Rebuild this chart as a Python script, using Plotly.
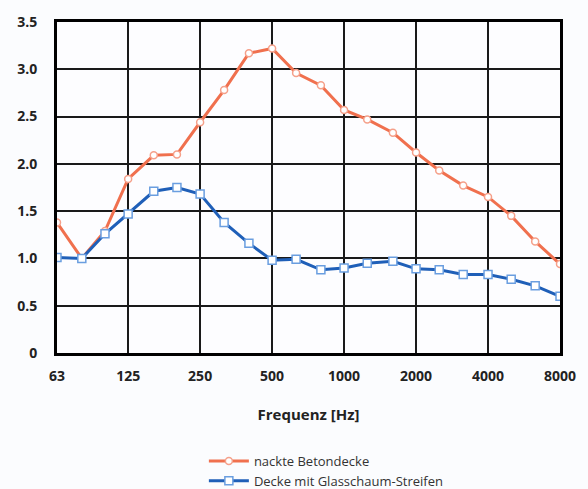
import plotly.graph_objects as go

freqs = [63, 80, 100, 125, 160, 200, 250, 315, 400, 500, 630, 800, 1000,
         1250, 1600, 2000, 2500, 3150, 4000, 5000, 6300, 8000]
beton = [1.38, 1.00, 1.29, 1.84, 2.09, 2.10, 2.44, 2.78, 3.17, 3.22, 2.96, 2.83,
         2.57, 2.47, 2.33, 2.12, 1.93, 1.77, 1.65, 1.45, 1.18, 0.94]
glas = [1.01, 1.00, 1.26, 1.47, 1.71, 1.75, 1.68, 1.38, 1.16, 0.98, 0.99, 0.88,
        0.90, 0.95, 0.97, 0.89, 0.88, 0.83, 0.83, 0.78, 0.71, 0.60]
x_ticks = [63, 125, 250, 500, 1000, 2000, 4000, 8000]
x_ticktext = ["63", "125", "250", "500", "1000", "2000", "4000", "8000"]
y_ticks = [0, 0.5, 1.0, 1.5, 2.0, 2.5, 3.0, 3.5]
y_ticktext = ["0", "0.5", "1.0", "1.5", "2.0", "2.5", "3.0", "3.5"]
names = ["nackte Betondecke", "Decke mit Glasschaum-Streifen"]

fig = go.Figure()
fig.add_trace(go.Scatter(
    x=freqs, y=beton, name=names[0], mode="lines+markers",
    line=dict(color="#f0704e", width=3),
    marker=dict(symbol="circle", size=7, color="white",
                line=dict(color="#f5a08a", width=1.5)),
    cliponaxis=True))
fig.add_trace(go.Scatter(
    x=freqs, y=glas, name=names[1], mode="lines+markers",
    line=dict(color="#1f5fb8", width=3),
    marker=dict(symbol="square", size=8, color="white",
                line=dict(color="#6a9ee0", width=1.5)),
    cliponaxis=True))

fig.update_layout(
    width=588, height=489,
    margin=dict(l=57, r=28, t=20, b=136),
    paper_bgcolor="#fbfcfe", plot_bgcolor="#fdfdff",
    font=dict(family="Open Sans, Noto Sans, sans-serif", color="#222222"),
    showlegend=True,
    legend=dict(x=0.292, y=0.088, xanchor="left", yanchor="top",
                yref="container",
                bgcolor="rgba(0,0,0,0)", itemwidth=40, tracegroupgap=0,
                font=dict(size=13, color="#333333")),
)
fig.update_xaxes(
    type="log", range=[1.79934, 3.90309],
    tickvals=x_ticks, ticktext=x_ticktext,
    tickfont=dict(size=14, family="Open Sans", weight="bold", color="#222222"),
    showgrid=True, gridcolor="#1a1a1a", gridwidth=2,
    showline=True, linecolor="black", linewidth=3, mirror=True,
    ticks="", ticklabelstandoff=8,
    title=dict(text="<b>Frequenz [Hz]</b>", font=dict(size=15, color="#222222"),
               standoff=26),
    zeroline=False,
)
fig.update_yaxes(
    range=[0, 3.5], tickvals=y_ticks, ticktext=y_ticktext,
    tickfont=dict(size=14, family="Open Sans", weight="bold", color="#222222"),
    showgrid=True, gridcolor="#1a1a1a", gridwidth=2,
    showline=True, linecolor="black", linewidth=3, mirror=True,
    ticks="", ticklabelstandoff=14, zeroline=False,
)

fig.write_html("out.html", config={"displayModeBar": False},
               post_script="document.body.style.margin='0';")
